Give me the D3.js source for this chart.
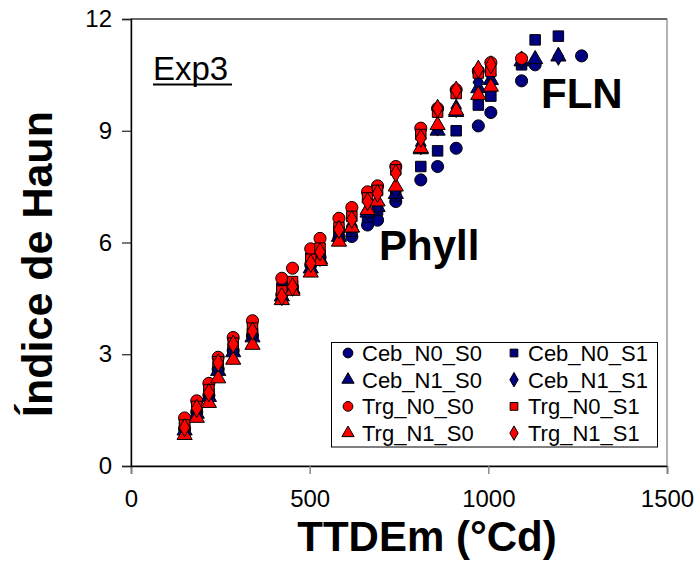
<!DOCTYPE html>
<html>
<head>
<meta charset="utf-8">
<script src="https://cdn.jsdelivr.net/npm/d3@7"></script>
<style>
  html, body { margin: 0; padding: 0; background: #fff; }
  svg { display: block; font-family: Arial, "Liberation Sans", sans-serif; }
</style>
</head>
<body>
<svg id="chart" width="697" height="563"></svg>
<script>
// ---- data ----
const seriesNames = ["Ceb_N0_S0","Ceb_N0_S1","Ceb_N1_S0","Ceb_N1_S1","Trg_N0_S0","Trg_N0_S1","Trg_N1_S0","Trg_N1_S1"];
const seriesColors = ["#000080","#000080","#000080","#000080","#FF0000","#FF0000","#FF0000","#FF0000"];
const seriesShapes = ["circle","square","triangle","diamond","circle","square","triangle","diamond"];

const ttCeb = [150,184,218,244,286,340,422,452,503,529,582,618,662,690,741,811,858,910,972,1007,1093,1131,1196,1261];
const ttTrg = [150,184,218,244,286,340,422,452,503,529,582,618,662,690,741,811,858,910,972,1007,1093];

const Ceb_N0_S0 = [1.00,1.45,1.90,2.60,3.10,3.50,4.60,4.80,5.40,5.60,6.10,6.16,6.47,6.60,7.10,7.68,8.04,8.53,9.13,9.49,10.34,10.77,null,11.01];
const Ceb_N0_S1 = [1.05,1.50,1.95,2.65,3.15,3.55,4.78,4.85,5.58,5.65,6.29,6.30,6.69,6.87,7.25,8.04,8.46,9.00,9.69,9.93,10.77,11.44,11.54,null];
const Ceb_N1_S0 = [0.95,1.40,1.85,2.55,3.05,3.45,4.55,4.75,5.30,5.55,6.15,6.40,6.80,6.95,7.30,8.50,9.00,9.50,10.14,10.36,10.86,10.92,10.99,null];
const Ceb_N1_S1 = [1.00,1.45,1.90,2.60,3.10,3.50,4.65,4.80,5.40,5.60,6.20,6.45,6.85,7.00,7.40,8.60,9.10,9.60,10.30,10.50,10.90,null,11.00,null];
const Trg_N0_S0 = [1.29,1.75,2.22,2.92,3.45,3.90,5.04,5.31,5.83,6.11,6.65,6.94,7.36,7.52,8.04,9.07,9.60,10.10,10.60,10.83,10.94];
const Trg_N0_S1 = [1.10,1.60,2.05,2.80,3.30,3.70,4.70,4.95,5.55,5.85,6.40,6.70,7.20,7.40,7.95,8.90,9.50,10.00,10.55,10.60,null];
const Trg_N1_S0 = [0.83,1.29,1.69,2.35,2.85,3.25,4.45,4.70,5.19,5.50,6.02,6.40,6.87,7.10,7.50,8.53,9.15,9.54,9.96,10.18,null];
const Trg_N1_S1 = [1.03,1.55,1.97,2.77,3.27,3.62,4.55,4.81,5.44,5.75,6.35,6.62,7.10,7.32,7.86,8.80,9.60,10.09,10.65,10.77,null];

const seriesValues = [Ceb_N0_S0,Ceb_N0_S1,Ceb_N1_S0,Ceb_N1_S1,Trg_N0_S0,Trg_N0_S1,Trg_N1_S0,Trg_N1_S1];
const seriesTT = [ttCeb,ttCeb,ttCeb,ttCeb,ttTrg,ttTrg,ttTrg,ttTrg];

const xTicks = [0,500,1000,1500];
const yTicks = [0,3,6,9,12];
const xTitle = "TTDEm (°Cd)";
const yTitle = "Índice de Haun";

// ---- layout ----
const svg = d3.select("#chart");
const L = 131, R = 667, T = 19, B = 466;
const x = d3.scaleLinear().domain([0,1500]).range([L,R]);
const y = d3.scaleLinear().domain([0,12]).range([B,T]);

// plot border
svg.append("rect").attr("x",L).attr("y",T).attr("width",R-L).attr("height",B-T)
  .attr("fill","none").attr("stroke","#808080").attr("stroke-width",1.2);
svg.append("line").attr("x1",L).attr("x2",R).attr("y1",T).attr("y2",T).attr("stroke","#222").attr("stroke-width",1.2);

// axes
const xAxis = d3.axisBottom(x).tickValues(xTicks).tickSize(8).tickPadding(16).tickFormat(d3.format("d"));
const gx = svg.append("g").attr("transform",`translate(0,${B})`).call(xAxis);
gx.select(".domain").attr("stroke","#000").attr("stroke-width",1.4);
gx.selectAll(".tick line").attr("stroke","#808080").attr("stroke-width",1.4);
gx.selectAll("text").attr("font-size",24).attr("fill","#000").attr("font-family","Arial, 'Liberation Sans', sans-serif");

const yAxis = d3.axisLeft(y).tickValues(yTicks).tickSize(9).tickPadding(10).tickFormat(d3.format("d"));
const gy = svg.append("g").attr("transform",`translate(${L},0)`).call(yAxis);
gy.select(".domain").attr("stroke","#000").attr("stroke-width",1.4);
gy.selectAll(".tick line").attr("stroke","#222").attr("stroke-width",1.2);
gy.selectAll("text").attr("font-size",24).attr("fill","#000").attr("font-family","Arial, 'Liberation Sans', sans-serif");

// titles
svg.append("text").attr("x",427).attr("y",551).attr("text-anchor","middle")
  .attr("font-size",42).attr("font-weight","bold").text(xTitle);
svg.append("text").attr("transform",`translate(52,264) rotate(-90)`).attr("text-anchor","middle")
  .attr("font-size",43).attr("font-weight","bold").text(yTitle);

// annotations
svg.append("text").attr("x",153).attr("y",80).attr("font-size",33).text("Exp3");
svg.append("line").attr("x1",153).attr("x2",232).attr("y1",84.5).attr("y2",84.5).attr("stroke","#000").attr("stroke-width",2);
svg.append("text").attr("x",541).attr("y",108).attr("font-size",42).attr("font-weight","bold").text("FLN");
svg.append("text").attr("x",379).attr("y",260).attr("font-size",42).attr("font-weight","bold").text("Phyll");

// symbols
function symbolFor(shape, size) {
  const t = {circle:d3.symbolCircle, square:d3.symbolSquare, triangle:d3.symbolTriangle, diamond:d3.symbolDiamond}[shape];
  return d3.symbol().type(t).size(size)();
}
const sizes = {circle:115, square:110, triangle:100, diamond:95};

const plot = svg.append("g");
seriesNames.forEach((name,i) => {
  const pts = seriesTT[i].map((t,j) => ({t, v: seriesValues[i][j]})).filter(d => d.v != null);
  plot.selectAll(null).data(pts).enter().append("path")
    .attr("d", symbolFor(seriesShapes[i], sizes[seriesShapes[i]]))
    .attr("transform", d => `translate(${x(d.t)},${y(d.v)})`)
    .attr("fill", seriesColors[i]).attr("stroke","#000").attr("stroke-width",1);
});

// legend
const lg = svg.append("g");
lg.append("rect").attr("x",331.5).attr("y",342.5).attr("width",326).attr("height",104.5)
  .attr("fill","#fff").attr("stroke","#000").attr("stroke-width",1);
seriesNames.forEach((name,i) => {
  const col = i % 2, row = Math.floor(i/2);
  const mx = col === 0 ? 348 : 514;
  const my = 353 + row*26.7;
  const lsz = {circle:75, square:60, triangle:65, diamond:60}[seriesShapes[i]];
  lg.append("path").attr("d", symbolFor(seriesShapes[i], lsz))
    .attr("transform", `translate(${mx},${my})`)
    .attr("fill", seriesColors[i]).attr("stroke","#000").attr("stroke-width",1);
  lg.append("text").attr("x", mx+14).attr("y", my+8).attr("font-size",22).text(name);
});
</script>
</body>
</html>
